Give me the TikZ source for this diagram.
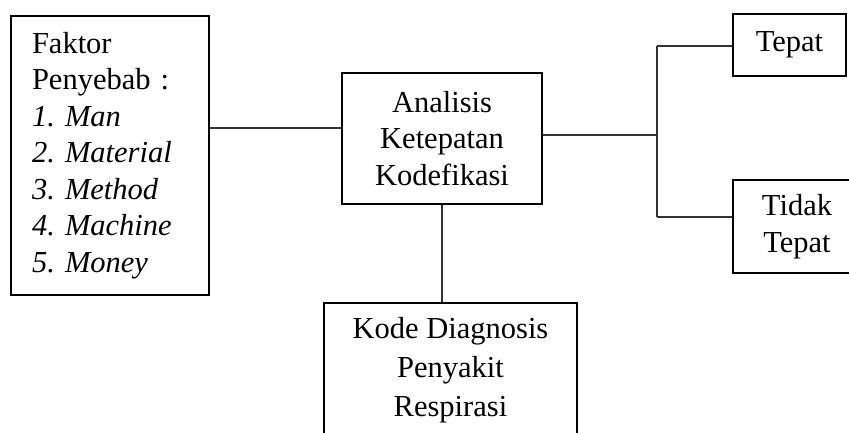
\documentclass[tikz,border=0pt]{standalone}
\usepackage{fontspec}
\setmainfont{Liberation Serif}
\frenchspacing
\begin{document}
\begin{tikzpicture}[x=1pt,y=1pt,
  box/.style={draw,line width=2pt,inner sep=0pt,align=center,
    font=\fontsize{30.5}{36.5}\selectfont},
  conn/.style={line width=1.1pt,draw=black!80}]
\useasboundingbox (0,0) rectangle (849,-432);
\node[box,minimum width=198,minimum height=279,text width=156,inner xsep=21pt,align=left]
  (faktor) at (110,-155.5) {Faktor\\Penyebab :\\\textit{1. Man}\\\textit{2. Material}\\\textit{3. Method}\\\textit{4. Machine}\\\textit{5. Money}};
\node[box,minimum width=200,minimum height=131] (analisis) at (442,-138.5) {Analisis\\Ketepatan\\Kodefikasi};
\node[box,minimum width=113,minimum height=62] (tepat) at (789.5,-45) {Tepat};
\node[box,minimum width=128,minimum height=93] (tidak) at (797,-226.5) {Tidak\\Tepat};
\node[box,minimum width=253,minimum height=135,font=\fontsize{30.5}{39}\selectfont] (kode) at (450.5,-370.5) {Kode Diagnosis\\Penyakit\\Respirasi};
\coordinate (j) at (657,-135);
\coordinate (jt) at (657,-46);
\coordinate (jb) at (657,-217);
\draw[conn] (faktor.east |- 0,-128) -- (analisis.west |- 0,-128);
\draw[conn] (analisis.east |- j) -- (j);
\draw[conn] (jt) -- (jb);
\draw[conn] (jt) -- (tepat.west |- jt);
\draw[conn] (jb) -- (tidak.west |- jb);
\draw[conn] (analisis.south) -- (analisis.south |- kode.north);
\end{tikzpicture}
\end{document}
